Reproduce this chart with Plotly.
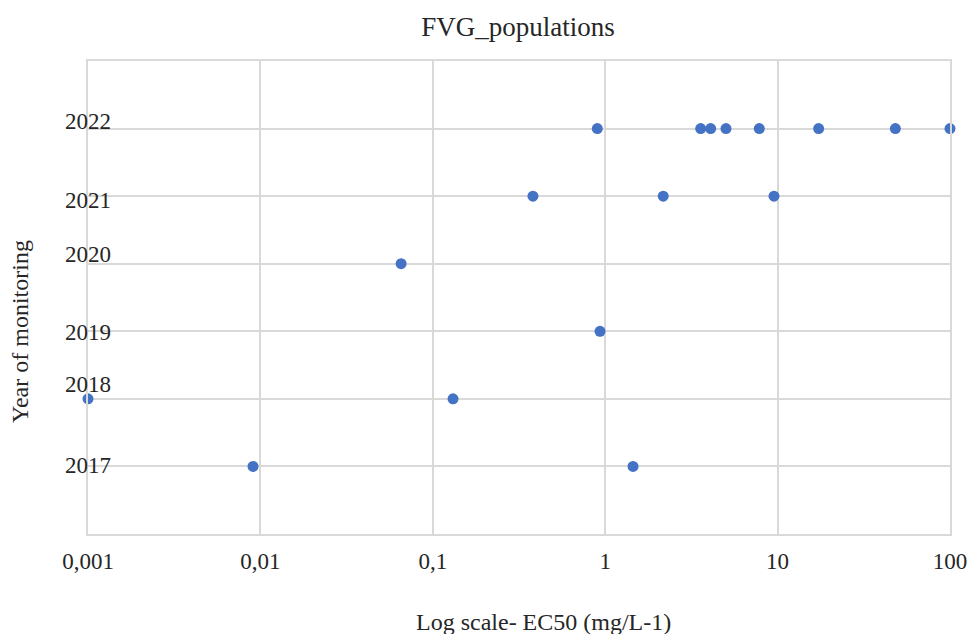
import plotly.graph_objects as go

# Data
years = [2022, 2022, 2022, 2022, 2022, 2022, 2022, 2022,
         2021, 2021, 2021,
         2020,
         2019,
         2018, 2018,
         2017, 2017]
ec50 = [0.9, 3.58, 4.09, 5.02, 7.83, 17.3, 48.2, 100,
        0.381, 2.17, 9.53,
        0.0655,
        0.933,
        0.001, 0.131,
        0.00906, 1.45]

year_labels = [2022, 2021, 2020, 2019, 2018, 2017]
label_shift = [7, -4, 9, -1, 14, 1]  # vertical offsets of the year labels (px)

x_tickvals = [0.001, 0.01, 0.1, 1, 10, 100]
x_ticktext = ["0,001", "0,01", "0,1", "1", "10", "100"]

FONT = "Liberation Serif"
GRID = "#D9D9D9"
TXT = "#262626"

W, H = 969, 634
L, R, T, B = 88, 19, 61, 100
PW, PH = W - L - R, H - T - B


def px_x(p):
    return (p - L) / PW


def px_y(p):
    return (H - B - p) / PH


fig = go.Figure()
fig.add_trace(go.Scatter(
    x=ec50, y=years, mode="markers",
    marker=dict(color="#4472C4", size=11),
    cliponaxis=False, showlegend=False,
))

fig.update_layout(
    width=W, height=H, autosize=False,
    margin=dict(l=L, r=R, t=T, b=B, autoexpand=False),
    paper_bgcolor="white", plot_bgcolor="white",
    font=dict(family=FONT, size=22, color=TXT),
    title=dict(text="FVG_populations", x=518 / W, xanchor="center",
               y=1 - 27 / H, yanchor="middle",
               font=dict(family=FONT, size=27, color=TXT)),
)

fig.update_xaxes(
    type="log", range=[-3, 2], automargin=False,
    tickvals=x_tickvals, ticktext=x_ticktext,
    showgrid=True, gridcolor=GRID, gridwidth=1.5,
    showline=True, linecolor=GRID, linewidth=2, mirror=True,
    ticks="", ticklabelstandoff=5,
    tickfont=dict(family=FONT, size=23, color=TXT),
    zeroline=False,
)
fig.update_yaxes(
    range=[2016, 2023], automargin=False,
    tickvals=year_labels, showticklabels=False,
    showgrid=True, gridcolor=GRID, gridwidth=2,
    showline=True, linecolor=GRID, linewidth=2, mirror=True,
    ticks="", zeroline=False,
)

for yr, sh in zip(year_labels, label_shift):
    fig.add_annotation(
        x=0, xref="paper", y=yr, yref="y",
        xanchor="left", yanchor="middle", xshift=-25, yshift=sh,
        text=str(yr), showarrow=False,
        font=dict(family=FONT, size=23, color=TXT),
    )

fig.add_annotation(
    x=px_x(543), xref="paper", y=px_y(622), yref="paper",
    xanchor="center", yanchor="middle",
    text="Log scale- EC50 (mg/L-1)", showarrow=False,
    font=dict(family=FONT, size=24, color=TXT),
)
fig.add_annotation(
    x=px_x(20), xref="paper", y=px_y(332), yref="paper",
    xanchor="center", yanchor="middle", textangle=-90,
    text="Year of monitoring", showarrow=False,
    font=dict(family=FONT, size=24, color=TXT),
)

fig.write_html("out.html", config={"displayModeBar": False},
               post_script="document.body.style.margin='0';document.body.style.overflow='hidden';")
